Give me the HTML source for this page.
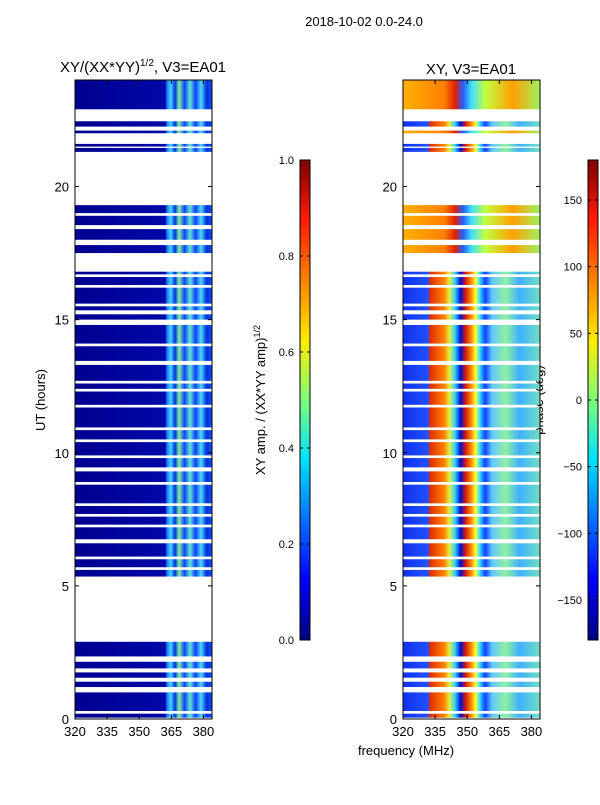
<!DOCTYPE html>
<html><head><meta charset="utf-8">
<style>
body{margin:0;background:#fff;font-family:"Liberation Sans","DejaVu Sans",sans-serif;}
svg text{font-family:"Liberation Sans","DejaVu Sans",sans-serif;}
</style></head>
<body>
<svg id="fig" width="600" height="800" xmlns="http://www.w3.org/2000/svg">
<defs>
<linearGradient id="jetv" x1="0" y1="1" x2="0" y2="0">
<stop offset="0" stop-color="#00007f"/><stop offset="0.125" stop-color="#0000ff"/>
<stop offset="0.375" stop-color="#00e0ff"/><stop offset="0.5" stop-color="#7dff7a"/>
<stop offset="0.625" stop-color="#ffea00"/><stop offset="0.875" stop-color="#ff1a00"/>
<stop offset="1" stop-color="#7f0000"/></linearGradient>
<linearGradient id="ampgrad" x1="0" y1="0" x2="1" y2="0">
<stop offset="0" stop-color="#000090"/><stop offset="0.66" stop-color="#0008a8"/>
<stop offset="0.67" stop-color="#1a70ff"/><stop offset="0.70" stop-color="#40d8ff"/>
<stop offset="0.73" stop-color="#0030e0"/><stop offset="0.76" stop-color="#80f0a0"/>
<stop offset="0.80" stop-color="#1040ff"/><stop offset="0.84" stop-color="#60e8d0"/>
<stop offset="0.88" stop-color="#0a40ff"/><stop offset="0.92" stop-color="#50d8ff"/>
<stop offset="0.96" stop-color="#0030e0"/><stop offset="1" stop-color="#1050f0"/></linearGradient>
<linearGradient id="phgrad" x1="0" y1="0" x2="1" y2="0">
<stop offset="0" stop-color="#1030f0"/><stop offset="0.18" stop-color="#2050ff"/>
<stop offset="0.2" stop-color="#e03000"/><stop offset="0.3" stop-color="#ff8000"/>
<stop offset="0.34" stop-color="#e0f040"/><stop offset="0.38" stop-color="#30d0ff"/>
<stop offset="0.42" stop-color="#0010d0"/><stop offset="0.46" stop-color="#e02000"/>
<stop offset="0.5" stop-color="#ff9000"/><stop offset="0.53" stop-color="#ffff30"/>
<stop offset="0.56" stop-color="#30e0ff"/><stop offset="0.6" stop-color="#1040ff"/>
<stop offset="0.65" stop-color="#60c8ff"/><stop offset="0.75" stop-color="#90f0a0"/>
<stop offset="0.85" stop-color="#40b0ff"/><stop offset="1" stop-color="#70e0c0"/></linearGradient>
<linearGradient id="phgrad2" x1="0" y1="0" x2="1" y2="0">
<stop offset="0" stop-color="#ffb000"/><stop offset="0.3" stop-color="#ff8000"/>
<stop offset="0.38" stop-color="#e02000"/><stop offset="0.44" stop-color="#2060ff"/>
<stop offset="0.5" stop-color="#40e0ff"/><stop offset="0.6" stop-color="#c0ff40"/>
<stop offset="0.8" stop-color="#ffa000"/><stop offset="1" stop-color="#a0f060"/></linearGradient>
</defs>
<text x="364" y="26" font-size="13" text-anchor="middle">2018-10-02 0.0-24.0</text>
<text x="143" y="72" font-size="15" text-anchor="middle">XY/(XX*YY)<tspan font-size="10" dy="-6">1/2</tspan><tspan dy="6">, V3=EA01</tspan></text>
<text x="471" y="74" font-size="15" text-anchor="middle">XY, V3=EA01</text>
<text x="45" y="400" font-size="13" text-anchor="middle" transform="rotate(-90 45 400)">UT (hours)</text>
<text x="406" y="755" font-size="13" text-anchor="middle">frequency (MHz)</text>
<text x="265" y="400" font-size="13" text-anchor="middle" transform="rotate(-90 265 400)">XY amp. / (XX*YY amp)<tspan font-size="9" dy="-5">1/2</tspan></text>
<text x="543" y="400" font-size="13" text-anchor="middle" transform="rotate(-90 543 400)">phase (deg)</text>
<g id="plots"></g>
</svg>
<script>
const segments=[[0.05,0.2],[0.3,1.0],[1.2,1.4],[1.55,1.75],[1.9,2.15],[2.35,2.9],[5.35,5.6],[5.7,6.0],[6.1,6.6],[6.75,7.2],[7.3,7.6],[7.7,8.0],[8.1,8.8],[8.9,9.3],[9.45,9.8],[9.9,10.4],[10.5,10.85],[10.95,11.7],[11.8,12.3],[12.4,12.6],[12.7,13.3],[13.45,14.0],[14.1,14.8],[15.0,15.2],[15.35,15.5],[15.6,16.2],[16.3,16.6],[16.7,16.8],[17.5,17.8],[18.0,18.4],[18.55,18.9],[19.0,19.3],[21.3,21.45],[21.5,21.6],[22.0,22.1],[22.25,22.45],[22.9,24.0]];
const phaseStyle=[0,0,0,0,0,0,0,0,0,0,0,0,0,0,0,0,0,0,0,0,0,0,0,0,0,0,0,0,1,1,1,1,0,0,1,0,1];
const xTicks=[320,335,350,365,380];
const yTicks=[0,5,10,15,20];
const ampTicks=[0.0,0.2,0.4,0.6,0.8,1.0];
const phaseTicks=[-150,-100,-50,0,50,100,150];
const svgNS="http://www.w3.org/2000/svg";
const g=document.getElementById('plots');
const Y0=719,Y1=80;
const yScale=h=>Y0-(h/24)*(Y0-Y1);
function mk(tag,attrs,parent){const e=document.createElementNS(svgNS,tag);for(const k in attrs)e.setAttribute(k,attrs[k]);(parent||g).appendChild(e);return e;}
function panel(x0,name,fillFn){
  const xs=f=>x0+(f-320)/64*137;
  segments.forEach((s,i)=>{
    const r=mk('rect',{x:x0,y:yScale(s[1]),width:137,height:yScale(s[0])-yScale(s[1]),fill:fillFn(i)});
    
    
  });
  const fr=mk('rect',{x:x0,y:Y1,width:137,height:Y0-Y1,fill:'none',stroke:'#000','stroke-width':1});
  
  
  xTicks.forEach(t=>{
    const x=xs(t);
    mk('line',{x1:x,x2:x,y1:Y0,y2:Y0-4,stroke:'#000'});
    mk('line',{x1:x,x2:x,y1:Y1,y2:Y1+4,stroke:'#000'});
    const tx=mk('text',{x:x,y:Y0+17,'font-size':13,'text-anchor':'middle'});tx.textContent=t;
    
    
  });
  yTicks.forEach(t=>{
    const y=yScale(t);
    mk('line',{x1:x0,x2:x0+4,y1:y,y2:y,stroke:'#000'});
    mk('line',{x1:x0+137,x2:x0+133,y1:y,y2:y,stroke:'#000'});
    const tx=mk('text',{x:x0-6,y:y+5,'font-size':13,'text-anchor':'end'});tx.textContent=t;
    
    
  });
}
panel(75,'amplitude-panel',i=>'url(#ampgrad)');
panel(403,'phase-panel',i=>phaseStyle[i]?'url(#phgrad2)':'url(#phgrad)');
function cbar(x,name,ticks,vmin,vmax,fmt){
  const cy0=640,cy1=160;
  const s=v=>cy0-(v-vmin)/(vmax-vmin)*(cy0-cy1);
  const r=mk('rect',{x:x,y:cy1,width:10,height:cy0-cy1,fill:'url(#jetv)',stroke:'#000'});
  
  
  ticks.forEach(t=>{
    const y=s(t);
    mk('line',{x1:x,x2:x+3,y1:y,y2:y,stroke:'#000'});
    mk('line',{x1:x+10,x2:x+7,y1:y,y2:y,stroke:'#000'});
    const tx=mk('text',{x:x-6,y:y+4,'font-size':11,'text-anchor':'end'});
    tx.textContent=fmt(t);
    
    
  });
}
cbar(300,'amp-colorbar',ampTicks,0,1,t=>t.toFixed(1));
cbar(588,'phase-colorbar',phaseTicks,-180,180,t=>String(t).replace('-','\u2212'));
</script>
</body></html>
